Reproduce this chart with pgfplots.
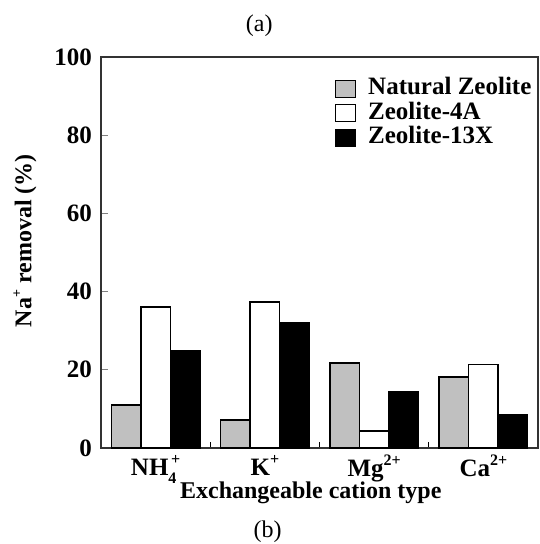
\documentclass[border=0pt]{standalone}
\usepackage{pgfplots}
\pgfplotsset{compat=1.18}
\usepackage{fontspec}
\setmainfont{Liberation Serif}

\definecolor{natgray}{RGB}{192,192,192}
\newcommand{\ion}[3]{#1\rlap{\raisebox{-0.7ex}{\footnotesize #2}}\raisebox{0.95ex}{\footnotesize #3}}

\begin{document}
\begin{tikzpicture}
\begin{axis}[
    name=ax,
    at={(0pt,0pt)}, anchor=south west,
    scale only axis, clip=false,
    width=218.5pt, height=195.5pt,
    ybar=0pt, bar width=14.75pt,
    xmin=0.5, xmax=4.5,
    ymin=0, ymax=100,
    xtick={1,2,3,4},
    xticklabels={\ion{NH}{4}{\,+}, \ion{K}{}{+}, \ion{Mg}{}{2+}, \ion{Ca}{}{2+}},
    minor xtick={1.5,2.5,3.5},
    ytick={0,20,40,60,80,100},
    xtick pos=bottom, ytick pos=left,
    tick align=inside,
    major tick length=3.5pt, minor tick length=3pt,
    x tick style={draw=none},
    minor x tick style={draw=black, line width=0.6pt},
    y tick style={line width=0.6pt},
    axis line style={line width=0.8pt, black!80},
    ticklabel style={font=\fontsize{12.5}{14}\selectfont\bfseries},
    /pgf/number format/assume math mode=true,
    xticklabel style={yshift=0pt},
    yticklabel style={xshift=-1pt},
    xlabel={Exchangeable cation type},
    xlabel style={font=\fontsize{12}{14}\selectfont\bfseries, at={(rel axis cs:0.48,0)}, anchor=center, yshift=-22.5pt},
    ylabel={Na\raisebox{0.9ex}{\scriptsize +} removal (\%)},
    ylabel style={font=\fontsize{12}{14}\selectfont\bfseries, at={(rel axis cs:0,0.53)}, anchor=center, yshift=38pt},
    legend style={at={(rel axis cs:0.535,0.945)}, anchor=north west, draw=none,
        fill=none, inner xsep=0pt, inner ysep=0pt, row sep=2.25pt,
        font=\fontsize{12.5}{14}\selectfont\bfseries,
        nodes={text height=8pt, text depth=2pt, inner xsep=6pt, inner ysep=0pt}},
    legend cell align=left,
    legend image code/.code={\draw[#1, line width=0.5pt] (0pt,-4.2pt) rectangle (10pt,4.2pt);},
]
\addplot[draw=black, line width=0.8pt, fill=natgray] coordinates {(1,11.0) (2,7.1) (3,21.7) (4,18.1)};
\addlegendentry{Natural Zeolite}
\addplot[draw=black, line width=0.8pt, fill=white] coordinates {(1,36.0) (2,37.3) (3,4.4) (4,21.4)};
\addlegendentry{Zeolite-4A}
\addplot[draw=black, line width=0.8pt, fill=black] coordinates {(1,24.8) (2,31.9) (3,14.4) (4,8.4)};
\addlegendentry{Zeolite-13X}
\node[font=\fontsize{12}{14}\selectfont] at (rel axis cs:0.362,1) [yshift=15.5pt] {(a)};
\node[font=\fontsize{12}{14}\selectfont] at (rel axis cs:0.381,0) [yshift=-42pt] {(b)};
\end{axis}
\pgfresetboundingbox
\path[use as bounding box] (-50.5pt,-48pt) rectangle (219pt,224pt);
\end{tikzpicture}
\end{document}
